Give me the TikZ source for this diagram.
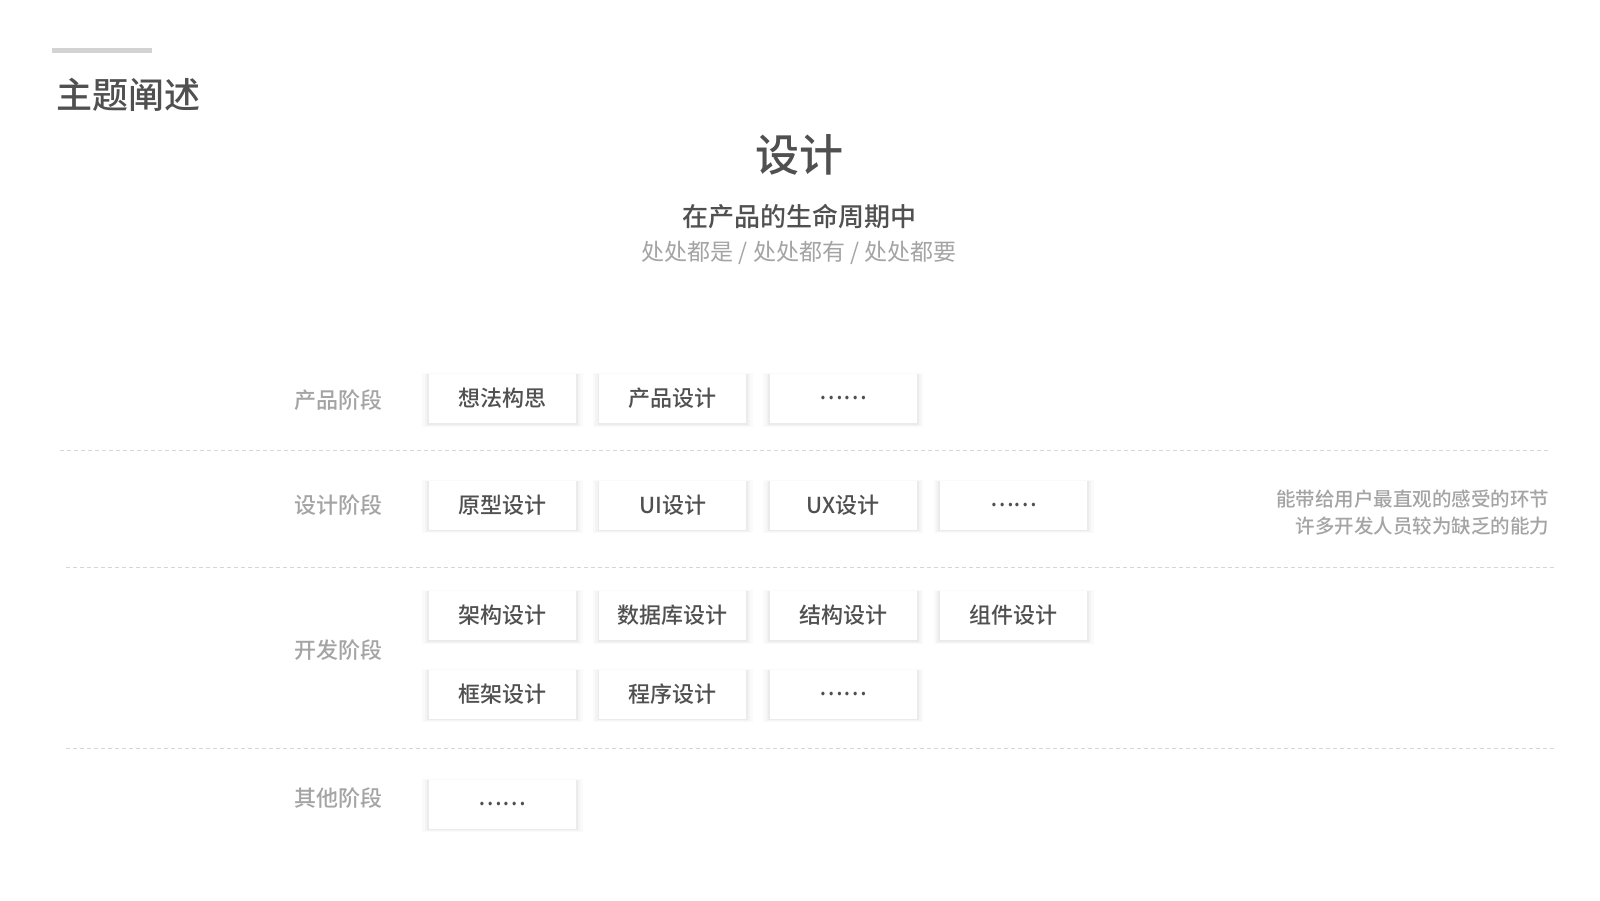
\documentclass[tikz,border=0pt]{standalone}
\usepackage{fontspec}
\setmainfont{Noto Sans CJK SC}
\newfontfamily\cjkmed{Noto Sans CJK SC Medium}
\usepackage{xcolor}
\usetikzlibrary{positioning,shadows}
\definecolor{inkdark}{HTML}{505050}
\definecolor{inkgray}{HTML}{A4A4A4}
\definecolor{rulegray}{HTML}{D6D6D6}
\tikzset{
  stagebox/.style={rectangle, fill=white, minimum width=147pt, minimum height=49pt, inner sep=0pt,
    text=inkdark, font=\cjkmed\fontsize{22}{26}\selectfont,
    general shadow={fill=black, opacity=0.018, shadow scale=1.09, shadow yshift=-1.5pt},
    general shadow={fill=black, opacity=0.025, shadow scale=1.055, shadow yshift=-1.5pt},
    general shadow={fill=black, opacity=0.035, shadow scale=1.025, shadow yshift=-1pt}},
  stagelabel/.style={text=inkgray, font=\cjkmed\fontsize{22}{26}\selectfont},
  rowrule/.style={draw=rulegray, line width=1pt, dash pattern=on 4pt off 3pt}
}
\begin{document}
\begin{tikzpicture}[x=1pt, y=-1pt, node distance=23pt]
\useasboundingbox[fill=white] (0,0) rectangle (1600,900);
% heading
\coordinate (barl) at (52,50.5);
\coordinate (barr) at (152,50.5);
\draw[rulegray!85!black!60, line width=5pt] (barl) -- (barr);
\node[anchor=west, text=inkdark, font=\cjkmed\fontsize{36}{40}\selectfont] (head) at (53,95) {主题阐述};
\node[text=inkdark, font=\cjkmed\fontsize{44}{48}\selectfont] (topic) at (799,155) {设计};
\node[text=inkdark, font=\cjkmed\fontsize{26}{30}\selectfont] (sub) at (799,217) {在产品的生命周期中};
\node[text=inkgray, font=\fontsize{23}{26}\selectfont] (subg) at (799,253) {处处都是 / 处处都有 / 处处都要};
% stage labels
\node[stagelabel] (lprod) at (338,400) {产品阶段};
\node[stagelabel] (ldes)  at (338,505) {设计阶段};
\node[stagelabel] (ldev)  at (338,650) {开发阶段};
\node[stagelabel] (loth)  at (338,798) {其他阶段};
% product stage
\node[stagebox] (idea) at (502.5,398.5) {想法构思};
\node[stagebox, right=of idea] (pdes) {产品设计};
\node[stagebox, right=of pdes] (pmore) {……};
% design stage
\node[stagebox] (proto) at (502.5,505) {原型设计};
\node[stagebox, right=of proto] (ui) {UI设计};
\node[stagebox, right=of ui] (ux) {UX设计};
\node[stagebox, right=of ux] (dmore) {……};
\node[text=inkgray, align=right, anchor=east, font=\cjkmed\fontsize{19.5}{27}\selectfont] (note) at (1553,513)
  {能带给用户最直观的感受的环节\\许多开发人员较为缺乏的能力};
% development stage
\node[stagebox] (arch) at (502.5,615.5) {架构设计};
\node[stagebox, right=of arch] (db) {数据库设计};
\node[stagebox, right=of db] (struct) {结构设计};
\node[stagebox, right=of struct] (comp) {组件设计};
\node[stagebox] (frame) at (502.5,694) {框架设计};
\node[stagebox, right=of frame] (prog) {程序设计};
\node[stagebox, right=of prog] (vmore) {……};
% other stage
\node[stagebox] (omore) at (502.5,804) {……};
% separators
\coordinate (s1l) at (60,450);   \coordinate (s1r) at (1548,450);
\coordinate (s2l) at (66,567);   \coordinate (s2r) at (1554,567);
\coordinate (s3l) at (66,748);   \coordinate (s3r) at (1554,748);
\draw[rowrule] (s1l) -- (s1r);
\draw[rowrule] (s2l) -- (s2r);
\draw[rowrule] (s3l) -- (s3r);
\end{tikzpicture}
\end{document}
